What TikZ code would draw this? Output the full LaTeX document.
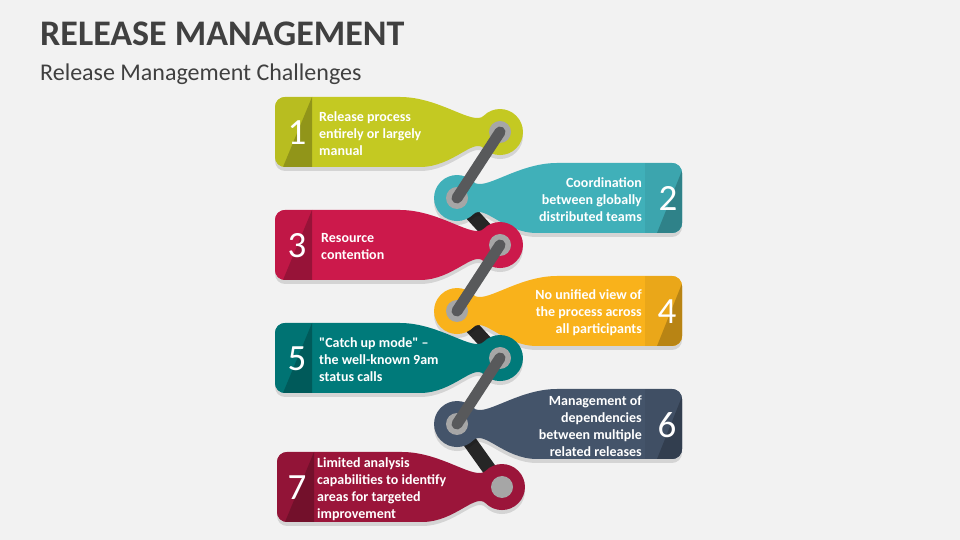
\documentclass[tikz,border=0pt]{standalone}
\usepackage{fontspec}
\setmainfont{Carlito}[Ligatures=TeXOff]
\usetikzlibrary{shadows}
\definecolor{bgcol}{RGB}{242,242,242}
\definecolor{titlegray}{RGB}{64,64,64}
\definecolor{lime}{RGB}{196,201,34}
\definecolor{skyteal}{RGB}{64,176,185}
\definecolor{crimson}{RGB}{204,25,75}
\definecolor{amber}{RGB}{249,178,27}
\definecolor{deepteal}{RGB}{0,122,122}
\definecolor{slate}{RGB}{68,84,106}
\definecolor{maroon}{RGB}{155,21,58}
\definecolor{ringgray}{RGB}{166,166,166}
\definecolor{bargray}{RGB}{88,89,91}
\definecolor{barblack}{RGB}{38,38,38}

\tikzset{
  tagshadow/.style={drop shadow={shadow xshift=0pt, shadow yshift=-4pt, opacity=0.12, fill=black}},
  frontlink/.style={bargray, line width=11pt, line cap=round},
  backlink/.style={barblack, line width=14pt},
  ring/.style={fill=ringgray},
  tagtext/.style={text=white, font=\bfseries\fontsize{14}{17}\selectfont, inner sep=0pt},
  lefttext/.style={tagtext, anchor=west, align=left},
  righttext/.style={tagtext, anchor=east, align=right},
  tagnum/.style={text=white, font=\fontsize{37}{37}\selectfont, inner sep=0pt},
  headline/.style={text=titlegray, font=\bfseries\fontsize{36}{40}\selectfont, inner sep=0pt},
  subline/.style={text=titlegray, font=\fontsize{24}{28}\selectfont, inner sep=0pt}
}

% outline of one tag, origin at the centre of its round head
\newcommand{\tagoutline}{(-100,35) -- (-215,35) arc (90:180:10) -- (-225,-25) arc (180:270:10)
  -- (-80,-35) .. controls (-47,-35) and (-26.9,-5.7) .. (-16.3,-16.3) arc (225:495:23)
  .. controls (-26.9,5.7) and (-60,35) .. cycle}

\newcommand{\lefttag}[2]{%
  \begin{scope}[shift={(#2)}]
    \fill[#1, tagshadow] \tagoutline;
    \begin{scope}
      \clip \tagoutline;
      \fill[#1!94!black] (-225,-35) rectangle (-188,35);
      \fill[#1!74!black] (-188,35) -- (-188,-35) -- (-217,-35) -- cycle;
    \end{scope}
  \end{scope}}

\newcommand{\righttag}[2]{%
  \begin{scope}[shift={(#2)}, xscale=-1]
    \fill[#1, tagshadow] \tagoutline;
    \begin{scope}
      \clip \tagoutline;
      \fill[#1!94!black] (-225,-35) rectangle (-188,35);
      \fill[#1!74!black] (-228,35) -- (-228,-35) -- (-200,-35) -- cycle;
    \end{scope}
  \end{scope}}

\begin{document}
\begin{tikzpicture}[x=1pt, y=1pt]
\fill[bgcol] (0,0) rectangle (960,540);
\useasboundingbox (0,0) rectangle (960,540);

\node[headline, anchor=base west] (title) at (40,494) {RELEASE MANAGEMENT};
\node[subline, anchor=base west] (subtitle) at (40,459) {Release Management Challenges};

% heads of the chain
\coordinate (h1) at (500,408);
\coordinate (h2) at (457,342);
\coordinate (h3) at (500,295);
\coordinate (h4) at (457,229);
\coordinate (h5) at (500,182);
\coordinate (h6) at (457,116);
\coordinate (h7) at (502,53);

% links behind the tags
\draw[backlink] (h2) -- (h3);
\draw[backlink] (h4) -- (h5);
\draw[backlink] (h6) -- (h7);

\lefttag{lime}{h1}
\righttag{skyteal}{h2}
\lefttag{crimson}{h3}
\righttag{amber}{h4}
\lefttag{deepteal}{h5}
\righttag{slate}{h6}
\lefttag{maroon}{h7}

% rings and links in front
\fill[ring] (h1) circle (11);
\fill[ring] (h2) circle (11);
\fill[ring] (h3) circle (11);
\fill[ring] (h4) circle (11);
\fill[ring] (h5) circle (11);
\fill[ring] (h6) circle (11);
\fill[ring] (h7) circle (11);
\draw[frontlink] (h1) -- (h2);
\draw[frontlink] (h3) -- (h4);
\draw[frontlink] (h5) -- (h6);

\node[lefttext] (t1) at (319,406) {Release process\\entirely or largely\\manual};
\node[tagnum] (n1) at (297,407) {1};
\node[righttext] (t2) at (642,340) {Coordination\\between globally\\distributed teams};
\node[tagnum] (n2) at (668,341) {2};
\node[lefttext] (t3) at (321,293) {Resource\\contention};
\node[tagnum] (n3) at (297,294) {3};
\node[righttext] (t4) at (642,227) {No unified view of\\the process across\\all participants};
\node[tagnum] (n4) at (667,228) {4};
\node[lefttext] (t5) at (319,180) {"Catch up mode" –\\the well-known 9am\\status calls};
\node[tagnum] (n5) at (297,181) {5};
\node[righttext] (t6) at (642,114) {Management of\\dependencies\\between multiple\\related releases};
\node[tagnum] (n6) at (667,115) {6};
\node[lefttext] (t7) at (317,51) {Limited analysis\\capabilities to identify\\areas for targeted\\improvement};
\node[tagnum] (n7) at (297,52) {7};
\end{tikzpicture}
\end{document}
